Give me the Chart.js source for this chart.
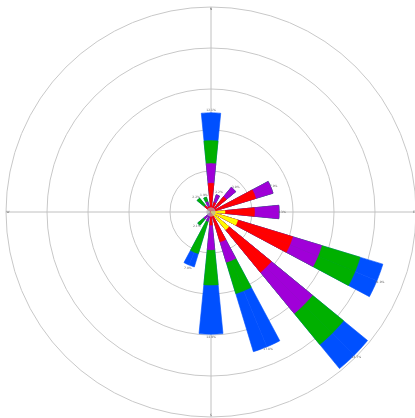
<!DOCTYPE html>
<html><head><meta charset="utf-8">
<script src="https://cdn.jsdelivr.net/npm/chart.js@4/dist/chart.umd.min.js"></script>
<style>html,body{margin:0;padding:0;background:#fff;overflow:hidden}</style>
</head><body>
<canvas id="c" width="417" height="418"></canvas>
<script>
// 16 wind directions, clockwise from north
const directions = ['N','NNE','NE','ENE','E','ESE','SE','SSE','S','SSW','SW','WSW','W','WNW','NW','NNW'];
const cardinalLabels = ['N','E','S','W'];
const calm = 0.55;
// frequency per speed class (stacked outward)
const speedYellow = [0,0,0,0,1.7,3.4,2.8,0,0,0,0,0,0,0,0,0];
const speedRed    = [3.5,1.2,2.4,5.7,3.6,7.0,6.7,3.8,1.6,0,0,0,0,0,1.0,0.7];
const speedPurple = [2.4,1.0,1.5,2.2,3.0,3.7,6.5,2.6,3.0,1.2,1.1,0,0,0,0,0.6];
const speedGreen  = [2.8,0,0,0,0,4.9,4.9,4.0,4.3,4.1,1.0,0,0,0,1.2,0.6];
const speedBlue   = [3.4,0,0,0,0,2.9,3.8,7.4,6.0,1.7,0,0,0,0,0,0];
const radialMax = 25, radialStep = 5;

const series = [speedYellow, speedRed, speedPurple, speedGreen, speedBlue];
const colors = ['#ffff00','#ff0000','#a000d8','#00b000','#0050ff'];

// cumulative totals per direction per class
const cum = series.map((s, si) => directions.map((d, k) => {
  let t = 0; for (let j = 0; j <= si; j++) t += series[j][k]; return t;
}));
const totals = cum[cum.length - 1];

// each direction drawn as two half-sectors of 5.625deg each (64 slots)
const SLOTS = 64;
function slotDir(j) {
  if (j % 4 === 0) return j / 4;
  if (j % 4 === 3) return ((j + 1) / 4) % 16;
  return -1;
}
function expand(arr) {
  const out = [];
  for (let j = 0; j < SLOTS; j++) { const k = slotDir(j); out.push(k < 0 ? 0 : arr[k]); }
  return out;
}
const labels = Array.from({length: SLOTS}, (_, j) => j % 4 === 0 ? directions[j / 4] : '');

const datasets = [{
  data: Array(SLOTS).fill(calm), backgroundColor: '#b4b4b4', borderWidth: 0
}];
for (let i = 0; i < series.length; i++) {
  const data = expand(cum[i]);
  datasets.push({
    data,
    backgroundColor: colors[i],
    borderColor: colors[i],
    borderWidth: ctx => (ctx.raw > 0 ? 0.6 : 0)
  });
}

const labelPlugin = {
  id: 'labelsPlugin',
  afterDatasetsDraw(chart) {
    const sc = chart.scales.r, ctx = chart.ctx;
    ctx.save();
    ctx.fillStyle = '#666';
    ctx.font = '3px "DejaVu Sans"';
    ctx.textAlign = 'center'; ctx.textBaseline = 'middle';
    directions.forEach((d, k) => {
      if (totals[k] <= 0) return;
      const p = sc.getPointPosition(4 * k, sc.getDistanceFromCenterForValue(totals[k]) + 3);
      ctx.fillText(totals[k].toFixed(1) + '%', p.x, p.y);
    });
    cardinalLabels.forEach((t, i) => {
      const p = sc.getPointPosition(16 * i, sc.drawingArea - 2);
      ctx.fillText(t, p.x, p.y);
    });
    ctx.restore();
  }
};

new Chart(document.getElementById('c'), {
  type: 'polarArea',
  data: { labels, datasets },
  options: {
    responsive: false,
    animation: false,
    layout: { padding: { left: 6, right: 0, top: 7, bottom: 1 } },
    plugins: { legend: { display: false }, tooltip: { enabled: false } },
    scales: {
      r: {
        min: 0, max: radialMax,
        startAngle: 0,
        ticks: { display: false, stepSize: radialStep },
        grid: { circular: true, color: '#c8c8c8', lineWidth: 1 },
        angleLines: {
          display: true,
          color: c => (c.index % 16 === 0 ? '#c0c0c0' : 'rgba(0,0,0,0)'),
          lineWidth: c => (c.index % 16 === 0 ? 1 : 0)
        },
        pointLabels: { display: false }
      }
    }
  },
  plugins: [labelPlugin]
});
</script>
</body></html>
